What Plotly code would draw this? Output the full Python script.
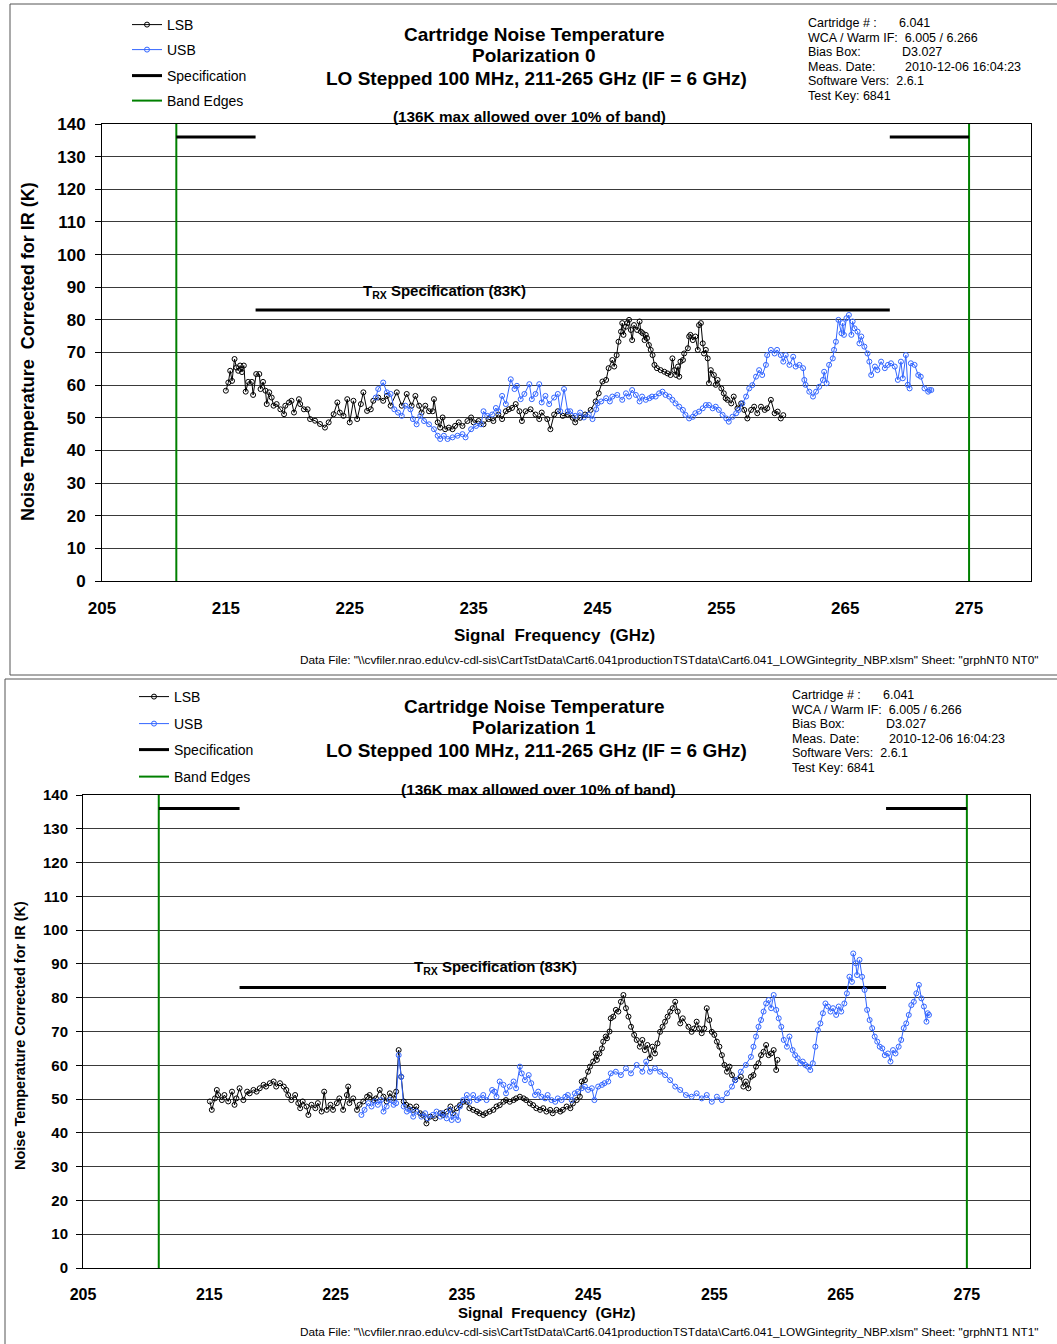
import plotly.graph_objects as go

W, H = 1057, 1344

# ---------------------------------------------------------------- data
FREQ_TICKS = [205, 215, 225, 235, 245, 255, 265, 275]
BAND_EDGES = [211, 275]          # GHz
SPEC_K = 83                      # receiver spec over band
MAX_K = 136                      # max allowed over 10% of band
MAX_FRACTION = 0.10

# Polarization 0, lower sideband
P0_LSB_F = [215.0, 215.2, 215.35, 215.5, 215.7, 215.85, 216.0, 216.15, 216.3, 216.45, 216.6, 216.8, 217.1, 217.2,
            217.45, 217.7, 217.8, 218.0, 218.2, 218.3, 218.5, 218.7, 218.85, 219.1, 219.4, 219.7, 219.8, 220.1,
            220.3, 220.5, 220.9, 221.0, 221.3, 221.6, 221.8, 222.2, 222.6, 223.0, 223.3, 223.7, 224.0, 224.2,
            224.5, 224.8, 225.0, 225.3, 225.6, 225.9, 226.1, 226.4, 226.7, 226.9, 227.3, 227.7, 228.0, 228.3,
            228.8, 229.2, 229.6, 230.0, 230.3, 230.6, 230.8, 231.1, 231.4, 231.7, 231.8, 232.1, 232.3, 232.5,
            232.7, 233.0, 233.3, 233.5, 233.8, 234.1, 234.5, 234.8, 235.0, 235.4, 235.8, 236.2, 236.6, 237.0,
            237.3, 237.6, 237.85, 238.1, 238.4, 238.7, 238.9, 239.2, 239.6, 240.0, 240.3, 240.5, 240.95, 241.2,
            241.5, 241.8, 242.2, 242.6, 243.0, 243.2, 243.6, 244.0, 244.45, 244.85, 245.1, 245.4, 245.7, 245.9,
            246.2, 246.35, 246.55, 246.7, 246.9, 247.0, 247.1, 247.3, 247.4, 247.55, 247.7, 247.8, 247.95, 248.2,
            248.4, 248.5, 248.65, 248.8, 248.9, 249.0, 249.15, 249.3, 249.45, 249.6, 249.8, 250.1, 250.4, 250.65,
            250.9, 251.05, 251.2, 251.35, 251.5, 251.6, 251.7, 251.9, 252.0, 252.3, 252.4, 252.5, 252.7, 252.9,
            253.1, 253.2, 253.35, 253.5, 253.6, 253.75, 253.9, 254.0, 254.15, 254.4, 254.55, 254.7, 255.0, 255.2,
            255.35, 255.5, 255.8, 256.0, 256.3, 256.6, 256.85, 257.1, 257.4, 257.65, 257.9, 258.2, 258.5, 258.7,
            259.0, 259.3, 259.55, 259.8, 260.0]
P0_LSB_T = [58.3, 60.8, 64.4, 61.3, 68.0, 65.4, 64.4, 66.0, 64.0, 66.0, 58.0, 61.0, 61.0, 57.0,
            63.4, 63.4, 58.8, 61.0, 58.3, 54.2, 57.8, 56.2, 53.7, 54.2, 52.6, 51.1, 53.7, 54.7,
            55.2, 51.6, 55.7, 54.2, 52.6, 52.6, 49.6, 49.1, 48.1, 47.0, 48.6, 51.1, 54.7, 51.6,
            50.6, 55.7, 48.6, 55.2, 49.6, 54.2, 57.8, 52.1, 52.6, 55.2, 56.2, 55.2, 56.7, 53.7,
            57.8, 53.7, 57.3, 53.7, 56.7, 53.7, 51.6, 53.7, 52.0, 52.0, 55.7, 48.6, 47.0, 50.1,
            46.5, 47.0, 46.5, 47.5, 48.6, 47.5, 49.0, 50.1, 48.6, 49.0, 48.0, 49.6, 49.0, 51.0,
            49.6, 52.0, 52.6, 53.0, 54.2, 52.0, 49.0, 52.0, 52.6, 51.0, 49.6, 51.6, 49.6, 46.5,
            51.0, 52.0, 50.6, 51.0, 50.0, 48.6, 50.0, 51.0, 52.4, 55.0, 57.5, 61.1, 61.6, 65.2,
            67.7, 65.7, 69.2, 73.3, 76.4, 79.0, 75.4, 77.9, 79.0, 80.0, 76.9, 73.8, 78.4, 76.9,
            79.5, 76.4, 75.9, 73.8, 75.4, 74.4, 72.3, 70.8, 69.2, 66.2, 65.2, 64.6, 64.1, 63.6,
            63.1, 68.2, 64.6, 63.1, 65.7, 62.6, 67.2, 67.7, 69.7, 71.3, 74.9, 75.4, 73.8, 74.9,
            70.8, 78.4, 79.0, 72.8, 69.7, 70.8, 68.2, 60.6, 64.6, 63.1, 60.1, 61.6, 59.0, 57.5,
            56.0, 55.5, 54.4, 56.5, 52.9, 54.4, 52.4, 49.8, 52.4, 53.4, 51.4, 53.4, 52.4, 52.9,
            55.5, 51.4, 51.9, 49.8, 50.8]

# Polarization 0, upper sideband
P0_USB_F = [227.1, 227.3, 227.7, 228.0, 228.3, 228.6, 228.9, 229.2, 229.5, 229.9, 230.1, 230.4, 230.7, 231.0,
            231.4, 231.8, 232.1, 232.3, 232.6, 232.9, 233.3, 233.7, 234.1, 234.35, 234.8, 235.2, 235.6, 235.8,
            236.1, 236.5, 236.8, 237.0, 237.3, 237.6, 238.0, 238.3, 238.5, 238.8, 239.1, 239.5, 239.7, 240.0,
            240.3, 240.5, 240.8, 241.1, 241.5, 241.8, 242.0, 242.3, 242.6, 242.8, 243.2, 243.6, 243.9, 244.3,
            244.6, 244.9, 245.0, 245.3, 245.7, 246.0, 246.2, 246.6, 247.0, 247.3, 247.55, 247.8, 248.1, 248.4,
            248.6, 248.9, 249.2, 249.4, 249.7, 249.98, 250.25, 250.5, 250.8, 251.05, 251.3, 251.6, 251.9, 252.1,
            252.4, 252.7, 252.9, 253.2, 253.5, 253.75, 254.0, 254.3, 254.55, 254.8, 255.1, 255.4, 255.6, 255.9,
            256.2, 256.4, 256.7, 257.0, 257.25, 257.5, 257.8, 258.05, 258.3, 258.6, 258.7, 259.0, 259.3, 259.5,
            259.8, 260.0, 260.2, 260.5, 260.8, 261.0, 261.3, 261.6, 261.7, 261.8, 262.1, 262.4, 262.65, 262.9,
            263.2, 263.3, 263.5, 263.7, 264.0, 264.1, 264.25, 264.45, 264.7, 264.8, 264.9, 265.1, 265.3, 265.5,
            265.6, 265.75, 266.0, 266.15, 266.3, 266.55, 266.8, 266.95, 267.1, 267.4, 267.6, 267.9, 268.2, 268.45,
            268.7, 269.0, 269.25, 269.5, 269.65, 269.9, 270.05, 270.2, 270.3, 270.6, 270.9, 271.1, 271.4, 271.7,
            271.8, 271.95]
P0_USB_T = [56.2, 58.8, 60.8, 57.8, 57.3, 52.6, 51.6, 50.6, 53.7, 52.6, 49.6, 48.0, 50.6, 49.0,
            48.0, 46.5, 44.5, 43.5, 44.5, 43.5, 44.0, 44.5, 45.0, 44.0, 46.5, 47.5, 48.0, 52.0,
            50.6, 51.0, 53.0, 52.0, 56.7, 54.2, 61.8, 58.8, 59.8, 55.7, 57.3, 60.3, 55.7, 57.3,
            60.3, 54.7, 56.7, 54.2, 56.2, 57.3, 52.0, 58.8, 52.0, 52.0, 50.6, 51.6, 50.1, 51.0,
            49.6, 52.6, 54.4, 55.0, 56.0, 55.0, 56.5, 57.0, 55.5, 57.5, 56.5, 58.5, 57.0, 55.0,
            56.5, 55.5, 56.0, 56.5, 56.5, 57.5, 58.0, 57.0, 56.5, 55.5, 54.4, 53.4, 52.4, 50.9,
            49.8, 50.3, 51.4, 51.9, 52.9, 53.9, 53.9, 52.9, 53.4, 52.4, 50.9, 49.8, 48.8, 50.3,
            51.4, 52.4, 54.4, 56.5, 59.0, 60.0, 62.6, 64.6, 63.1, 66.2, 69.2, 70.8, 69.7, 70.8,
            69.2, 67.2, 69.2, 66.2, 68.7, 65.7, 66.2, 65.2, 61.6, 60.1, 58.0, 56.5, 58.0, 59.5,
            61.6, 64.1, 60.6, 66.2, 68.2, 70.8, 73.3, 80.0, 75.9, 79.0, 75.4, 80.5, 81.5, 75.4,
            79.5, 77.4, 76.4, 72.8, 74.9, 71.8, 69.7, 67.2, 63.1, 65.7, 64.6, 67.2, 65.2, 66.2,
            66.7, 65.7, 61.6, 67.2, 62.1, 69.2, 60.1, 59.0, 66.7, 66.2, 63.1, 62.6, 59.0, 58.0,
            58.5, 58.5]

# Polarization 1, lower sideband
P1_LSB_F = [215.05, 215.2, 215.45, 215.6, 215.7, 216.0, 216.2, 216.5, 216.8, 217.0, 217.15, 217.4, 217.7, 218.0,
            218.2, 218.5, 218.75, 219.0, 219.3, 219.5, 219.8, 220.1, 220.3, 220.6, 220.9, 221.1, 221.25, 221.5,
            221.8, 222.05, 222.2, 222.4, 222.7, 222.85, 223.1, 223.4, 223.6, 223.9, 224.1, 224.3, 224.6, 224.8,
            225.1, 225.3, 225.6, 225.9, 226.0, 226.1, 226.4, 226.7, 226.9, 227.2, 227.5, 227.7, 228.0, 228.2,
            228.5, 228.8, 229.05, 229.3, 229.6, 229.8, 230.0, 230.2, 230.4, 230.6, 230.9, 231.15, 231.4, 231.7,
            231.9, 232.2, 232.5, 232.9, 233.3, 233.5, 233.8, 234.1, 234.3, 234.6, 234.85, 235.1, 235.4, 235.6,
            235.9, 236.2, 236.4, 236.7, 236.9, 237.2, 237.5, 237.75, 238.0, 238.3, 238.5, 238.8, 239.1, 239.3,
            239.6, 239.9, 240.1, 240.4, 240.65, 240.9, 241.2, 241.45, 241.7, 242.0, 242.2, 242.5, 242.8, 243.0,
            243.3, 243.6, 243.8, 244.1, 244.35, 244.5, 244.75, 245.0, 245.15, 245.4, 245.6, 245.7, 245.9, 246.1,
            246.2, 246.4, 246.5, 246.7, 246.8, 247.0, 247.2, 247.4, 247.6, 247.8, 248.0, 248.2, 248.4, 248.65,
            248.85, 249.1, 249.3, 249.5, 249.7, 249.9, 250.1, 250.3, 250.5, 250.7, 250.9, 251.1, 251.3, 251.5,
            251.7, 251.9, 252.1, 252.3, 252.5, 252.95, 253.2, 253.4, 253.6, 253.8, 254.0, 254.2, 254.4, 254.6,
            254.8, 255.0, 255.2, 255.4, 255.6, 255.8, 256.0, 256.2, 256.4, 256.65, 257.1, 257.3, 257.5, 257.7,
            257.9, 258.1, 258.3, 258.5, 258.7, 258.9, 259.1, 259.3, 259.5, 259.7, 259.9, 260.0]
P1_LSB_T = [49.3, 46.8, 50.2, 52.7, 51.2, 49.7, 51.2, 49.3, 52.2, 48.3, 50.2, 53.2, 49.7, 52.2,
            51.7, 52.7, 52.2, 53.2, 54.2, 53.7, 54.7, 55.2, 53.7, 54.7, 53.7, 52.7, 51.2, 49.7,
            51.2, 48.8, 47.3, 49.3, 47.8, 45.3, 48.3, 47.3, 48.8, 46.3, 52.2, 46.8, 48.3, 46.8,
            48.8, 50.2, 46.8, 51.2, 53.7, 48.8, 50.2, 46.8, 48.3, 49.3, 50.7, 51.2, 49.7, 50.2,
            52.7, 50.7, 49.3, 51.7, 50.2, 52.2, 64.5, 56.6, 49.3, 48.3, 47.8, 46.8, 47.8, 45.8,
            45.3, 42.8, 44.8, 44.3, 45.8, 45.3, 46.3, 47.8, 45.8, 47.3, 48.2, 49.2, 49.2, 47.3,
            46.8, 46.3, 45.8, 45.3, 45.8, 46.3, 46.8, 47.8, 48.2, 49.2, 49.7, 49.2, 49.7, 50.2,
            50.7, 50.2, 49.7, 48.7, 48.2, 47.3, 46.8, 47.3, 46.3, 46.8, 45.8, 46.8, 46.3, 46.8,
            47.8, 47.3, 48.7, 49.7, 50.7, 55.2, 55.6, 58.1, 59.6, 61.1, 63.5, 61.6, 63.5, 65.0,
            67.0, 68.5, 68.0, 70.0, 73.9, 74.4, 76.4, 75.9, 78.8, 80.8, 76.9, 74.4, 71.4, 69.0,
            67.5, 65.5, 67.5, 64.5, 66.0, 62.1, 65.5, 63.5, 66.5, 69.9, 71.4, 72.9, 74.4, 75.9,
            76.9, 78.8, 75.9, 72.4, 73.9, 71.4, 69.9, 70.9, 72.9, 70.9, 69.5, 70.9, 76.9, 73.4,
            69.9, 69.0, 67.0, 65.5, 63.0, 60.1, 58.1, 59.6, 57.1, 55.6, 56.6, 53.7, 55.2, 53.2,
            56.6, 57.1, 59.6, 60.6, 63.0, 64.0, 66.0, 63.0, 63.5, 64.5, 58.6, 61.6]

# Polarization 1, upper sideband
P1_USB_F = [227.05, 227.3, 227.6, 227.85, 228.1, 228.35, 228.6, 228.8, 229.05, 229.3, 229.6, 229.8, 230.0, 230.2,
            230.4, 230.65, 230.9, 231.15, 231.4, 231.8, 232.1, 232.3, 232.7, 233.0, 233.3, 233.5, 233.8, 234.05,
            234.2, 234.45, 234.7, 234.85, 235.1, 235.4, 235.6, 235.9, 236.2, 236.4, 236.7, 236.96, 237.4, 237.6,
            237.75, 238.0, 238.3, 238.5, 238.8, 239.1, 239.3, 239.6, 239.75, 240.0, 240.3, 240.5, 240.8, 241.05,
            241.3, 241.6, 241.8, 242.1, 242.4, 242.6, 242.9, 243.2, 243.4, 243.7, 243.95, 244.2, 244.5, 244.75,
            245.0, 245.3, 245.5, 245.8, 246.1, 246.3, 246.6, 246.8, 247.2, 247.6, 248.0, 248.4, 248.85, 249.3,
            249.6, 249.9, 250.3, 250.7, 251.1, 251.5, 251.9, 252.3, 252.75, 253.2, 253.6, 254.0, 254.4, 254.8,
            255.2, 255.6, 256.0, 256.4, 256.65, 257.1, 257.5, 257.9, 258.1, 258.3, 258.5, 258.7, 258.9, 259.1,
            259.3, 259.5, 259.7, 259.9, 260.1, 260.3, 260.5, 260.75, 260.95, 261.2, 261.4, 261.6, 261.8, 262.0,
            262.2, 262.4, 262.6, 262.8, 263.0, 263.2, 263.4, 263.6, 263.8, 264.0, 264.2, 264.4, 264.65, 264.85,
            265.05, 265.3, 265.5, 265.7, 265.9, 266.0, 266.2, 266.3, 266.5, 266.7, 266.9, 267.1, 267.3, 267.5,
            267.7, 267.9, 268.1, 268.3, 268.5, 268.75, 268.95, 269.15, 269.35, 269.6, 269.8, 270.0, 270.2, 270.4,
            270.6, 270.8, 271.0, 271.2, 271.4, 271.6, 271.8, 271.9, 272.0]
P1_USB_T = [45.3, 46.8, 48.8, 47.8, 49.3, 48.3, 49.7, 46.3, 47.8, 49.7, 48.3, 48.8, 63.0, 56.6,
            47.8, 46.3, 46.8, 44.8, 46.3, 44.8, 45.8, 44.3, 45.3, 46.3, 44.8, 45.8, 44.3, 46.8,
            43.8, 45.3, 43.8, 47.8, 49.7, 51.2, 49.2, 51.2, 49.7, 50.2, 51.2, 49.7, 52.7, 52.2,
            50.7, 55.2, 54.2, 51.7, 53.7, 55.2, 53.2, 59.6, 57.6, 55.6, 57.1, 54.7, 51.2, 52.2,
            50.7, 50.2, 51.2, 49.7, 49.2, 50.2, 49.7, 50.7, 51.2, 49.7, 51.7, 52.2, 53.2, 53.7,
            52.7, 53.2, 49.7, 53.7, 54.2, 54.7, 55.2, 57.6, 58.1, 57.1, 59.1, 57.6, 60.1, 58.1,
            61.1, 58.1, 59.1, 58.1, 57.1, 55.6, 53.7, 52.7, 51.2, 50.7, 51.7, 50.2, 51.2, 49.2,
            50.7, 49.7, 51.7, 53.7, 55.6, 58.1, 60.1, 62.5, 65.5, 68.5, 71.4, 73.4, 75.9, 78.3,
            79.3, 76.9, 80.8, 76.4, 73.9, 71.4, 67.5, 65.5, 68.5, 64.5, 63.0, 62.1, 60.6, 61.1,
            60.1, 59.6, 58.6, 60.6, 65.5, 70.4, 72.4, 75.4, 78.3, 77.4, 75.9, 76.9, 74.9, 77.4,
            75.9, 78.3, 81.3, 86.2, 84.7, 93.1, 90.2, 86.7, 91.2, 86.2, 82.3, 76.4, 73.4, 71.0,
            68.5, 67.0, 65.5, 65.0, 63.0, 63.5, 61.1, 64.5, 63.5, 65.5, 67.5, 71.0, 72.4, 74.9,
            77.8, 78.8, 81.3, 83.8, 79.8, 77.4, 72.9, 75.4, 74.9]

# ---------------------------------------------------------------- styling
BLACK = "#000000"
BLUE = "#3366FF"
GREEN = "#008000"
BOLD = "Liberation Sans, Arial, sans-serif"
NARROW = "Liberation Sans Narrow, Arial Narrow, Liberation Sans, sans-serif"


def px(x):
    return x / W


def py(y):
    return 1 - y / H


band_lo, band_hi = BAND_EDGES
ten_pct = (band_hi - band_lo) * MAX_FRACTION
spec_x = [band_lo + ten_pct, band_hi - ten_pct, None, band_lo, band_lo + ten_pct, None, band_hi - ten_pct, band_hi]
spec_y = [SPEC_K, SPEC_K, None, MAX_K, MAX_K, None, MAX_K, MAX_K]
edge_x = [band_lo, band_lo, None, band_hi, band_hi]
edge_y = [0, 140, None, 0, 140]

fig = go.Figure()

panels = [
    # axes suffix, data, legend ids
    ("", P0_LSB_F, P0_LSB_T, P0_USB_F, P0_USB_T, ["legend", "legend2", "legend3", "legend4"]),
    ("2", P1_LSB_F, P1_LSB_T, P1_USB_F, P1_USB_T, ["legend5", "legend6", "legend7", "legend8"]),
]

for sfx, lf, lt, uf, ut, legs in panels:
    xa, ya = "x" + sfx, "y" + sfx
    fig.add_trace(go.Scatter(
        x=edge_x, y=edge_y, xaxis=xa, yaxis=ya, mode="lines", name="Band Edges",
        line=dict(color=GREEN, width=2), legend=legs[3]))
    fig.add_trace(go.Scatter(
        x=spec_x, y=spec_y, xaxis=xa, yaxis=ya, mode="lines", name="Specification",
        line=dict(color=BLACK, width=3), legend=legs[2]))
    fig.add_trace(go.Scatter(
        x=lf, y=lt, xaxis=xa, yaxis=ya, mode="lines+markers", name="LSB",
        line=dict(color=BLACK, width=1),
        marker=dict(symbol="circle-open", size=5, color=BLACK, line=dict(width=1)),
        legend=legs[0]))
    fig.add_trace(go.Scatter(
        x=uf, y=ut, xaxis=xa, yaxis=ya, mode="lines+markers", name="USB",
        line=dict(color=BLUE, width=1),
        marker=dict(symbol="circle-open", size=5, color=BLUE, line=dict(width=1)),
        legend=legs[1]))


def xaxis_cfg(domain, anchor, size, standoff):
    return dict(domain=domain, anchor=anchor, range=[205, 280], tickvals=FREQ_TICKS,
                showgrid=False, zeroline=False, showline=True, linecolor=BLACK, linewidth=1,
                mirror=True, ticks="", ticklabelstandoff=standoff,
                tickfont=dict(family=BOLD, size=size, color=BLACK, weight="bold"))


def yaxis_cfg(domain, anchor, size, standoff):
    return dict(domain=domain, anchor=anchor, range=[0, 140], dtick=10,
                showgrid=True, gridcolor="#3a3a3a", gridwidth=1, zeroline=False,
                showline=True, linecolor=BLACK, linewidth=1, mirror=True,
                ticks="outside", ticklen=6, tickcolor=BLACK, ticklabelstandoff=standoff,
                tickfont=dict(family=BOLD, size=size, color=BLACK, weight="bold"))


# legend placement: (legend id, left x px, centre y px, font size)
legend_pos = [
    ("legend", 127, 25, 14), ("legend2", 127, 50, 14), ("legend3", 127, 76, 14), ("legend4", 127, 101, 14),
    ("legend5", 134, 697, 14), ("legend6", 134, 724, 14), ("legend7", 134, 750, 14), ("legend8", 134, 777, 14),
]
legend_layout = {}
for lid, lx, ly, fs in legend_pos:
    legend_layout[lid] = dict(x=px(lx), y=py(ly), xanchor="left", yanchor="middle",
                              bgcolor="rgba(0,0,0,0)", borderwidth=0,
                              font=dict(family=NARROW, size=fs, color=BLACK),
                              itemwidth=30, tracegroupgap=0)

annotations = []


def text(x, y, s, size, family=BOLD, xanchor="center", angle=0, yanchor="middle"):
    annotations.append(dict(x=px(x), y=py(y), xref="paper", yref="paper", text=s, showarrow=False,
                            xanchor=xanchor, yanchor=yanchor, textangle=angle,
                            font=dict(family=family, size=size, color=BLACK)))


DATA_PATH = r'"\\cvfiler.nrao.edu\cv-cdl-sis\CartTstData\Cart6.041productionTSTdata\Cart6.041_LOWGintegrity_NBP.xlsm"'

for pol, top, info_x in [(0, 0, 806), (1, 672, 790)]:
    text(534, top + 34, "<b>Cartridge Noise Temperature</b>", 19)
    text(534, top + 55, f"<b>Polarization {pol}</b>", 19)
    text(536, top + 78, "<b>LO Stepped 100 MHz, 211-265 GHz (IF = 6 GHz)</b>", 19)
    rows = [("Cartridge # :", "6.041", 897), ("WCA / Warm IF:  6.005 / 6.266", "", 0),
            ("Bias Box:", "D3.027", 900), ("Meas. Date:", "2010-12-06 16:04:23", 903),
            ("Software Vers:  2.6.1", "", 0), ("Test Key: 6841", "", 0)]
    for i, (lab, val, vx) in enumerate(rows):
        yy = top + 23 + i * 14.6
        text(info_x, yy, lab, 12.5, family=NARROW, xanchor="left")
        if val:
            text(vx + (info_x - 806), yy, val, 12.5, family=NARROW, xanchor="left")

# panel-specific labels
text(529, 117, "<b>(136K max allowed over 10% of band)</b>", 15.3)
text(444, 291, "<b>T<sub>RX</sub> Specification (83K)</b>", 15)
text(28, 352, "<b>Noise Temperature  Corrected for IR (K)</b>", 18, angle=-90)
text(554, 635, "<b>Signal  Frequency  (GHz)</b>", 17)
text(1040, 660, "Data File: " + DATA_PATH + ' Sheet: "grphNT0 NT0"', 11.8, family=NARROW, xanchor="right")

text(538, 789, "<b>(136K max allowed over 10% of band)</b>", 15.4)
text(495, 967, "<b>T<sub>RX</sub> Specification (83K)</b>", 15)
text(20, 1036, "<b>Noise Temperature Corrected for IR (K)</b>", 14.5, angle=-90)
text(547, 1312, "<b>Signal  Frequency  (GHz)</b>", 15)
text(1040, 1332, "Data File: " + DATA_PATH + ' Sheet: "grphNT1 NT1"', 11.8, family=NARROW, xanchor="right")

shapes = [
    dict(type="rect", xref="paper", yref="paper", x0=px(10), x1=px(1070), y0=py(675), y1=py(4),
         line=dict(color="#555555", width=1), fillcolor="rgba(0,0,0,0)", layer="below"),
    dict(type="rect", xref="paper", yref="paper", x0=px(5), x1=px(1070), y0=py(1350), y1=py(679),
         line=dict(color="#555555", width=1), fillcolor="rgba(0,0,0,0)", layer="below"),
]

fig.update_layout(
    width=W, height=H, margin=dict(l=0, r=0, t=0, b=0, autoexpand=False),
    paper_bgcolor="white", plot_bgcolor="white", showlegend=True,
    xaxis=xaxis_cfg([px(102), px(1031)], "y", 17, 12),
    yaxis=yaxis_cfg([py(581), py(124)], "x", 17, 6),
    xaxis2=xaxis_cfg([px(83), px(1030)], "y2", 16, 12),
    yaxis2=yaxis_cfg([py(1268), py(795)], "x2", 15, 5),
    annotations=annotations, shapes=shapes,
    **legend_layout,
)

fig.write_html("out.html")
